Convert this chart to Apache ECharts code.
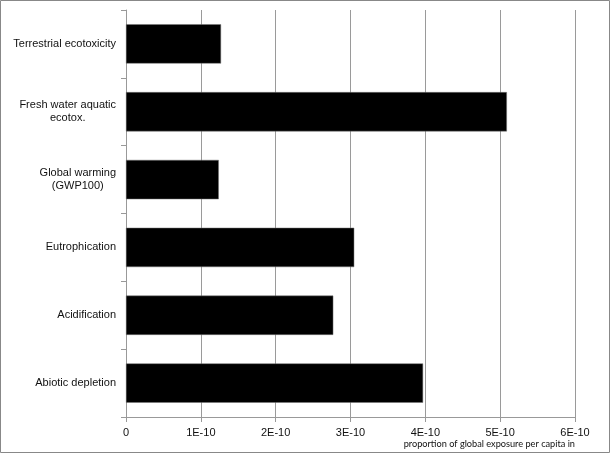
<!DOCTYPE html>
<html lang="en">
<head>
    <meta charset="UTF-8">
    <title>Exposure per capita</title>
    <style>
        html,
        body,
        #echarts {
            margin: 0px;
            padding: 0px;
            width: 610px;
            height: 453px;
            background: #fff;
        }
    </style>
</head>
<body>
    <div id="echarts"></div>
    <script src="https://cdn.jsdelivr.net/npm/echarts@6/dist/echarts.min.js"></script>
    <script>
        // categories, top to bottom
        var categories = [
            'Terrestrial ecotoxicity',
            'Fresh water aquatic\necotox.',
            'Global warming\n(GWP100)',
            'Eutrophication',
            'Acidification',
            'Abiotic depletion'
        ];
        // proportion of global exposure per capita
        var values = [1.27e-10, 5.09e-10, 1.24e-10, 3.05e-10, 2.77e-10, 3.97e-10];
        var xTickLabels = ['0', '1E-10', '2E-10', '3E-10', '4E-10', '5E-10', '6E-10'];
        var axisTitle = 'proportion of global exposure per capita in';

        var myChart = echarts.init(document.getElementById('echarts'));

        myChart.setOption({
            animation: false,
            title: {
                text: axisTitle,
                right: 35,
                top: 440,
                padding: 0,
                textStyle: {
                    fontFamily: 'Lato',
                    fontSize: 9.2,
                    fontWeight: 'normal',
                    color: '#111'
                }
            },
            graphic: [{
                type: 'rect',
                shape: { x: 0.5, y: 0.5, width: 609, height: 452 },
                style: { fill: null, stroke: '#888', lineWidth: 1 }
            }],
            grid: {
                left: 126,
                right: 35,
                top: 10,
                bottom: 36
            },
            xAxis: {
                type: 'value',
                min: 0,
                max: 6e-10,
                interval: 1e-10,
                axisLine: { show: true, lineStyle: { color: '#999' } },
                axisTick: { show: true, length: 5, lineStyle: { color: '#999' } },
                axisLabel: {
                    margin: 10,
                    fontFamily: 'Liberation Sans',
                    fontSize: 11,
                    color: '#111',
                    formatter: function (v) {
                        return xTickLabels[Math.round(v / 1e-10)];
                    }
                },
                splitLine: { show: true, lineStyle: { color: '#9a9a9a', width: 1 } }
            },
            yAxis: {
                type: 'category',
                inverse: true,
                data: categories,
                axisLine: { show: true, lineStyle: { color: '#999' } },
                axisTick: { show: true, length: 5, lineStyle: { color: '#999' } },
                axisLabel: {
                    margin: 10,
                    fontFamily: 'Liberation Sans',
                    fontSize: 11,
                    color: '#111',
                    formatter: function (v) {
                        return v.split('\n').map(function (s) {
                            return '{c|' + s + '}';
                        }).join('\n');
                    },
                    rich: {
                        c: {
                            align: 'center',
                            fontFamily: 'Liberation Sans',
                            fontSize: 11,
                            color: '#111',
                            lineHeight: 13
                        }
                    }
                },
                splitLine: { show: false }
            },
            series: [{
                type: 'bar',
                data: values,
                barCategoryGap: '42%',
                itemStyle: { color: '#000', borderColor: '#777', borderWidth: 0.5 }
            }]
        });

        window.addEventListener("resize", function () {
            myChart.resize();
        });
    </script>
</body>
</html>
